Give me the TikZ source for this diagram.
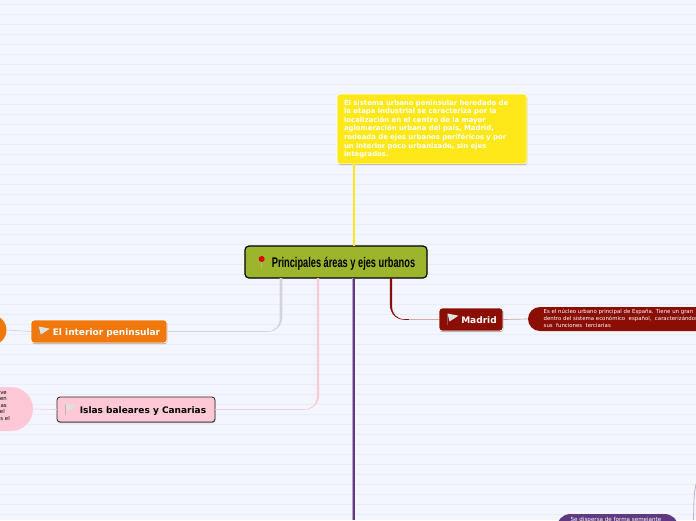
\documentclass[tikz,border=0pt]{standalone}
\usepackage{fontspec}
\setmainfont{DejaVu Sans}
\newfontfamily\rootfont[FakeStretch=0.66]{Liberation Sans}
\usetikzlibrary{calc,shadows}
\definecolor{paperc}{HTML}{F3F6FF}
\definecolor{rulec}{HTML}{E9EDF7}
\definecolor{rootc}{HTML}{9DB52C}
\definecolor{yellowc}{HTML}{FFE81A}
\definecolor{orangec}{HTML}{F0780C}
\definecolor{pinkc}{HTML}{FFC8D6}
\definecolor{redc}{HTML}{8B0E04}
\definecolor{purplec}{HTML}{5F3A80}
\definecolor{greyc}{HTML}{D4D4D6}
\tikzset{
  topicbox/.style={rounded corners=3pt,inner sep=0pt,outer sep=0pt,draw=white,line width=.8pt,
    drop shadow={shadow xshift=.4pt,shadow yshift=-1pt,fill=black,opacity=.35},
    text height=7.5pt,text depth=.5pt,
    font=\fontsize{9}{11}\selectfont\bfseries,text=white},
  blob/.style={rounded corners=#1,inner sep=0pt,outer sep=0pt},
  flagicon/.pic={
    \fill[black!40,opacity=.5] (-.6,0) rectangle (.6,11);
    \fill[white!88!black] (0,0) -- (11,2.2) -- (2,8) -- cycle;
  },
}
% tapered branch: start, end, signed half width, colour
\newcommand{\taperlink}[4]{%
  \pgfmathsetmacro{\rr}{#3>0 ? -15 : 15}
  \fill[#4] let \p1=(#1), \p2=(#2) in
    (\x1+#3pt,\y1) -- (\x1+#3pt,\y2+15pt)
    .. controls (\x1+#3pt,\y2+6pt) and (\x1+#3pt+.4*\rr pt,\y2-.3pt) .. (\x1+#3pt+\rr pt,\y2-.3pt) -- (\x2,\y2-.3pt)
    -- (\x2,\y2+.3pt) -- (\x1-#3pt+.85*\rr pt,\y2+.3pt)
    .. controls (\x1-#3pt+.35*\rr pt,\y2+.3pt) and (\x1-#3pt,\y2+5pt) .. (\x1-#3pt,\y2+13pt) -- (\x1-#3pt,\y1) -- cycle;
}
\begin{document}
\begin{tikzpicture}[x=1pt,y=-1pt]
\useasboundingbox (0,0) rectangle (696,520);
\clip (0,0) rectangle (696,520);
% Paper with ruled lines
\fill[paperc] (0,0) rectangle (696,520);
\foreach \yy in {0,1,...,51} {
  \draw[rulec,line width=.7pt] (0,4.5+10*\yy) -- (696,4.5+10*\yy);
}
% Nodes that the branches end on
\node[topicbox,fill=yellowc,minimum width=190pt,minimum height=70pt,text width=176pt,align=left,
  text height=,text depth=,font=\fontsize{6.9}{8.6}\selectfont\bfseries] (summary) at (432,129)
  {El sistema urbano peninsular heredado de\\la etapa industrial se caracteriza por la\\localización en el centro de la mayor\\aglomeración urbana del país, Madrid,\\rodeada de ejes urbanos periféricos y por\\un interior poco urbanizado, sin ejes\\integrados.};
\node[rounded corners=4pt,fill=rootc,draw=black,line width=1.2pt,inner sep=0pt,outer sep=0pt,
  minimum width=182pt,minimum height=32pt,text height=10pt,text depth=0pt,
  font=\rootfont\fontsize{14}{16}\selectfont\bfseries] (root) at (336,262)
  {\hspace*{15pt}Principales áreas y ejes urbanos};
\node[topicbox,fill=orangec,minimum width=136pt,minimum height=23pt] (interior) at (99,331.5)
  {\hspace*{15pt}El interior peninsular};
\node[topicbox,fill=pinkc,draw=black!85,text=black,minimum width=158pt,minimum height=25pt] (islas) at (136,409.5)
  {\hspace*{14pt}Islas baleares y Canarias};
\node[topicbox,fill=redc,minimum width=64pt,minimum height=23pt] (madrid) at (471,319.5)
  {\hspace*{16pt}Madrid};
% Leaves running off the page
\node[blob=15pt,fill=orangec,minimum width=44pt,minimum height=30pt] (interiorleaf) at (-15.5,330) {};
\node[blob=22pt,fill=pinkc,minimum width=80pt,minimum height=44pt] (islasleaf) at (-7,409) {};
\node[blob=12pt,fill=redc,minimum width=210pt,minimum height=24pt] (madridleaf) at (633,319) {};
\node[blob=14pt,fill=purplec,minimum width=122pt,minimum height=40pt] (restleaf) at (617.5,534) {};
\node[anchor=east,align=right,inner sep=0pt,font=\fontsize{5.4}{6.5}\selectfont] (islastext) at (10,406)
  {ve\kern3pt\\en\kern3pt\\as\kern3pt\\el\kern5pt\\s el};
\node[anchor=west,align=left,inner sep=0pt,text=white,font=\fontsize{5.4}{6.9}\selectfont] (madridtext) at (543.5,318.5)
  {Es el núcleo urbano principal de España. Tiene un gran\\dentro del sistema económico\ \ español,\ \ caracterizándose\\sus\ \ funciones\ \ terciarias};
\node[anchor=north,inner sep=0pt,text=white,font=\fontsize{5.6}{6.9}\selectfont] (resttext) at (616,517)
  {Se dispersa de forma semejante};
% Branches
\coordinate (yellowtop) at (354,164);
\coordinate (restend) at (354,520);
\coordinate (greytop) at (281,278);
\coordinate (pinktop) at (318,278);
\coordinate (redtop) at (391,278);
\coordinate (farstart) at (696,484);
\coordinate (farend) at (693.5,520);
\draw[yellowc,line width=2.4pt] (summary.south -| yellowtop) -- (root.north -| yellowtop);
\draw[purplec,line width=2.6pt] (root.south -| restend) -- (restend);
\draw[purplec!45,line width=.5pt] ($(root.south -| restend)+(-1.7,0)$) -- ($(restend)+(-1.7,0)$);
\taperlink{greytop}{interior.east}{1.3}{greyc}
\taperlink{pinktop}{islas.east}{1.2}{pinkc}
\taperlink{redtop}{madrid.west}{-1.1}{redc}
\draw[redc!35,line width=.9pt] ($(madrid.west)+(-30,0)$) -- (madrid.west);
% Thin links from topics to leaves
\draw[greyc,line width=.7pt] (interiorleaf.east) -- (interior.west);
\draw[pinkc,line width=.7pt] (islasleaf.east) -- (islas.west);
\draw[redc!40,line width=.7pt] (madrid.east) -- (madridleaf.west);
\draw[purplec!40,line width=.8pt] (farstart) .. controls (694,495) .. (farend);
% Icons
\fill[black!25,opacity=.6] (261,259) rectangle (262.2,268);
\fill[red!85!black] (261.7,259) circle[radius=3pt];
\pic at (38.8,326.5) {flagicon};
\pic at (65.5,403.5) {flagicon};
\pic at (447.5,313.5) {flagicon};
\end{tikzpicture}
\end{document}
